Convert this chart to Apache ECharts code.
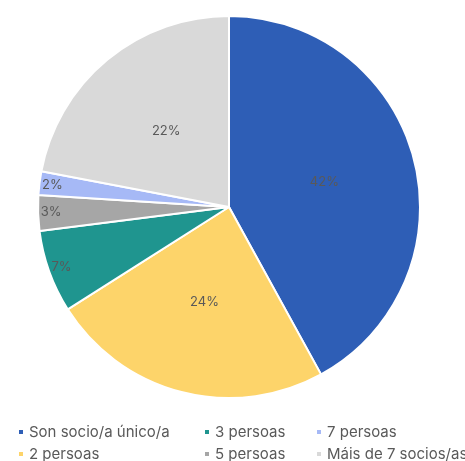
<!DOCTYPE html>
<html>
<head>
<meta charset="utf-8">
<script src="https://cdn.jsdelivr.net/npm/echarts@6/dist/echarts.min.js"></script>
<style>
  html, body { margin: 0; padding: 0; background: #fff; }
  #chart { width: 465px; height: 461px; }
</style>
</head>
<body>
<div id="chart"></div>
<script>
// categories and shares (%), clockwise from 12 o'clock
const categories = ['Son socio/a único/a', '2 persoas', '3 persoas', '5 persoas', '7 persoas', 'Máis de 7 socios/as']
const shares = [42, 24, 7, 3, 2, 22]
const colors = ['#2e5eb6', '#fdd46a', '#1f958f', '#a6a6a6', '#a6b9f6', '#d9d9d9']
// small slices get their label near the rim
const smallLimit = 10

const chart = echarts.init(document.getElementById('chart'))

const font = 'Inter, Roboto, sans-serif'
const center = [229, 207]
const outer = 191

function legendCol(names, left) {
  return {
    orient: 'vertical',
    left: left,
    top: 424,
    height: 42,
    padding: 0,
    itemWidth: 6,
    itemHeight: 6,
    itemGap: 6,
    icon: 'rect',
    selectedMode: false,
    data: names,
    textStyle: { color: '#595959', fontSize: 15, lineHeight: 16, fontFamily: font }
  }
}

const pieData = categories.map((name, i) => ({
  name: name,
  value: shares[i],
  itemStyle: { color: colors[i] },
  label: { show: shares[i] >= smallLimit }
}))

const rimData = categories.map((name, i) => ({
  name: name,
  value: shares[i],
  label: { show: shares[i] < smallLimit }
}))

const labelStyle = {
  position: 'inside',
  formatter: '{c}%',
  color: '#595959',
  fontSize: 13,
  fontFamily: font
}

chart.setOption({
  animation: false,
  legend: [
    legendCol([categories[0], categories[1]], 17),
    legendCol([categories[2], categories[3]], 203),
    legendCol([categories[4], categories[5]], 315)
  ],
  series: [
    {
      type: 'pie',
      center: center,
      radius: [0, outer],
      startAngle: 90,
      clockwise: true,
      silent: true,
      itemStyle: { borderColor: '#fff', borderWidth: 2 },
      label: labelStyle,
      labelLine: { show: false },
      data: pieData
    },
    {
      type: 'pie',
      center: center,
      radius: [outer - 32, outer],
      startAngle: 90,
      clockwise: true,
      silent: true,
      itemStyle: { color: 'rgba(0,0,0,0)' },
      label: labelStyle,
      labelLine: { show: false },
      data: rimData
    }
  ]
})

window.addEventListener('resize', () => {
  chart.resize()
})
</script>
</body>
</html>
